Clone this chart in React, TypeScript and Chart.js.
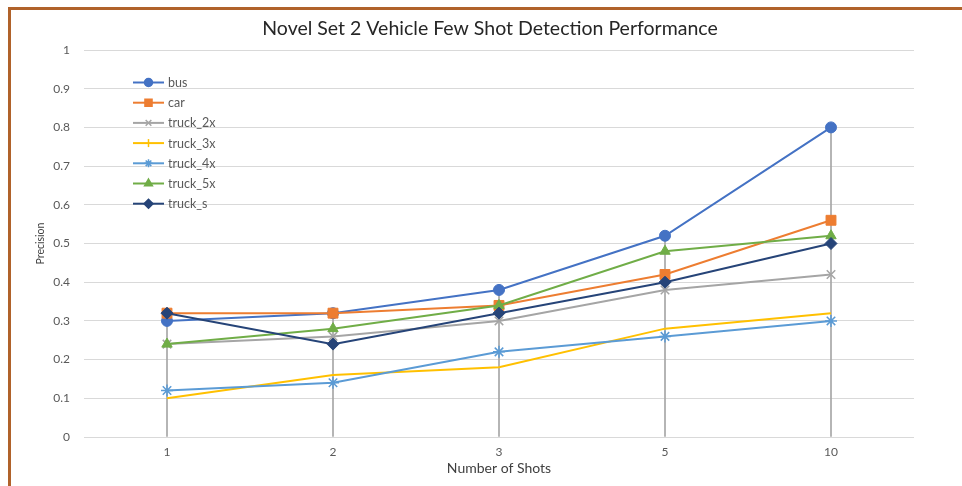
import React, { useEffect, useRef } from 'react';
import { Chart, registerables } from 'chart.js';
import { drawPoint } from 'chart.js/helpers';

Chart.register(...registerables);

const shots = ['1', '2', '3', '5', '10'];
const bus = [0.3, 0.32, 0.38, 0.52, 0.8];
const car = [0.32, 0.32, 0.34, 0.42, 0.56];
const truck2x = [0.24, 0.26, 0.3, 0.38, 0.42];
const truck3x = [0.1, 0.16, 0.18, 0.28, 0.32];
const truck4x = [0.12, 0.14, 0.22, 0.26, 0.3];
const truck5x = [0.24, 0.28, 0.34, 0.48, 0.52];
const truckS = [0.32, 0.24, 0.32, 0.4, 0.5];
const yTicks = ['0', '0.1', '0.2', '0.3', '0.4', '0.5', '0.6', '0.7', '0.8', '0.9', '1'];
const chartTitle = 'Novel Set 2 Vehicle Few Shot Detection Performance';

const FONT = 'Lato, "Open Sans", sans-serif';

const series = [
  { label: 'bus', data: bus, color: '#4472C4', style: 'circle', r: 5.5, lr: 4 },
  { label: 'car', data: car, color: '#ED7D31', style: 'rect', r: 7, lr: 5 },
  { label: 'truck_2x', data: truck2x, color: '#A5A5A5', style: 'crossRot', r: 6, lr: 4 },
  { label: 'truck_3x', data: truck3x, color: '#FFC000', style: 'line', r: 0, lr: 0 },
  { label: 'truck_4x', data: truck4x, color: '#5B9BD5', style: 'star', r: 6, lr: 4 },
  { label: 'truck_5x', data: truck5x, color: '#70AD47', style: 'triangle', r: 6, lr: 4.5 },
  { label: 'truck_s', data: truckS, color: '#264478', style: 'rectRot', r: 6, lr: 4.5 },
];

const dropData = shots.map((_, i) => Math.max(...series.map((s) => s.data[i])));

const titlePlugin = {
  id: 'offsetTitle',
  afterDraw(chart: any) {
    const ctx = chart.ctx;
    ctx.save();
    ctx.fillStyle = '#262626';
    ctx.font = `19.5px ${FONT}`;
    ctx.textAlign = 'center';
    ctx.textBaseline = 'middle';
    ctx.fillText(chartTitle, 490, 29);
    ctx.restore();
  },
};

const insideLegend = {
  id: 'insideLegend',
  afterDraw(chart: any) {
    const ctx = chart.ctx;
    const x0 = chart.chartArea.left + 49;
    const y0 = chart.chartArea.top + 32.5;
    series.forEach((s, i) => {
      const y = y0 + i * 20.2;
      ctx.save();
      ctx.strokeStyle = s.color;
      ctx.fillStyle = s.color;
      ctx.lineWidth = 2;
      ctx.beginPath();
      ctx.moveTo(x0, y);
      ctx.lineTo(x0 + 31, y);
      ctx.stroke();
      if (s.style === 'line') {
        ctx.lineWidth = 1.5;
        ctx.beginPath();
        ctx.moveTo(x0 + 15.5, y - 4);
        ctx.lineTo(x0 + 15.5, y + 4);
        ctx.stroke();
      } else {
        ctx.lineWidth = 1.5;
        drawPoint(ctx, { pointStyle: s.style as any, radius: s.lr, borderWidth: 1.5, rotation: 0 }, x0 + 15.5, y);
      }
      ctx.fillStyle = '#595959';
      ctx.font = `12.5px ${FONT}`;
      ctx.textBaseline = 'middle';
      ctx.textAlign = 'left';
      ctx.fillText(s.label, x0 + 35, y + 0.5);
      ctx.restore();
    });
  },
};

export default function App() {
  const ref = useRef<HTMLCanvasElement>(null);
  useEffect(() => {
    if (!ref.current) return;
    const datasets: any[] = series.map((s, i) => ({
      type: 'line',
      label: s.label,
      data: s.data,
      borderColor: s.color,
      backgroundColor: s.color,
      borderWidth: 2,
      pointStyle: s.style === 'line' ? 'line' : s.style,
      pointRadius: s.style === 'line' ? 0 : s.r,
      pointBorderWidth: s.style === 'star' || s.style === 'crossRot' ? 1.5 : 1,
      pointBackgroundColor: s.color,
      pointBorderColor: s.color,
      tension: 0,
      order: -i,
    }));
    datasets.push({
      type: 'bar',
      label: 'drop',
      data: dropData,
      backgroundColor: '#A6A6A6',
      barThickness: 1,
      order: 100,
    });
    const chart = new Chart(ref.current, {
      type: 'line',
      data: { labels: shots, datasets },
      options: {
        responsive: false,
        animation: false,
        layout: { padding: { left: 34, right: 48, top: 50, bottom: 0 } },
        plugins: {
          legend: { display: false },
          tooltip: { enabled: false },
          title: { display: false },
        },
        scales: {
          x: {
            offset: true,
            grid: { display: false, drawTicks: false },
            border: { display: false },
            ticks: { color: '#595959', font: { family: FONT, size: 12 }, padding: 8 },
            title: {
              display: true,
              text: 'Number of Shots',
              color: '#404040',
              font: { family: FONT, size: 14 },
              padding: { top: 4, bottom: 9 },
            },
            afterFit: (scale: any) => {
              scale.height = 49;
            },
          },
          y: {
            min: 0,
            max: 1,
            grid: { color: '#D9D9D9', drawTicks: false },
            border: { display: false },
            ticks: {
              stepSize: 0.1,
              color: '#595959',
              font: { family: FONT, size: 12 },
              padding: 14,
              callback: (_v: any, i: number) => yTicks[i],
            },
            title: {
              display: true,
              text: 'Precision',
              color: '#404040',
              font: { family: FONT, size: 10.5 },
              padding: 0,
            },
            afterFit: (scale: any) => {
              scale.width = 50;
            },
          },
        },
      },
      plugins: [insideLegend, titlePlugin],
    });
    return () => chart.destroy();
  }, []);
  return (
    <div style={{ position: 'fixed', left: 0, top: 0, width: 962, height: 486, background: '#fff' }}>
      <canvas ref={ref} width={962} height={486} style={{ position: 'absolute', left: 0, top: 0 }} />
      <div
        style={{
          position: 'absolute',
          left: 8,
          top: 7,
          width: 954,
          height: 479,
          borderLeft: '3px solid #B0622A',
          borderTop: '3px solid #B0622A',
          boxSizing: 'border-box',
          pointerEvents: 'none',
        }}
      />
    </div>
  );
}
